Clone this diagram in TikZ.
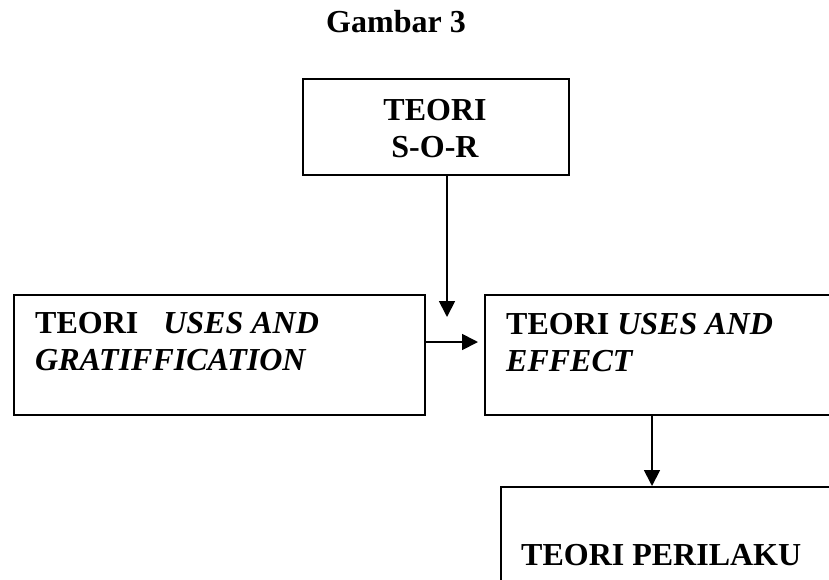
\documentclass[tikz,border=0pt]{standalone}
\usepackage{fontspec}
\setmainfont{Liberation Serif}
\usetikzlibrary{arrows.meta}
\tikzset{
  boxshape/.style={draw, line width=1.8pt, rectangle, inner sep=0pt, anchor=north west},
  txt/.style={font=\fontsize{32}{37}\selectfont\bfseries, inner sep=0pt, anchor=base west, align=left},
  arr/.style={line width=1.8pt, -{Triangle[length=16pt,width=16pt]}},
}
\begin{document}
\begin{tikzpicture}[x=1pt,y=-1pt]
\useasboundingbox (0,0) rectangle (829,579);
\clip (0,0) rectangle (829,579);
\node[txt, anchor=base] (title) at (396,32) {Gambar 3};
% boxes
\node[boxshape, minimum width=266pt, minimum height=96pt] (sor) at (302,78) {};
\node[boxshape, minimum width=411pt, minimum height=120pt] (left) at (13,294) {};
\node[boxshape, minimum width=420pt, minimum height=120pt] (right) at (484,294) {};
\node[boxshape, minimum width=420pt, minimum height=150pt] (bottom) at (500,486) {};
% texts (base anchor = baseline of last line)
\node[txt, anchor=base, align=center] (sortxt) at (435,157) {TEORI\\S-O-R};
\node[txt] (lefttxt) at (35,370) {TEORI\hspace{17pt} \textit{USES AND}\\\textit{GRATIFFICATION}};
\node[txt] (righttxt) at (506,371) {TEORI \textit{USES AND}\\\textit{EFFECT}};
\node[txt] (bottomtxt) at (521,565) {TEORI PERILAKU};
% connectors
\coordinate (sx) at (447,0);
\coordinate (sorend) at (447,317);
\coordinate (hy) at (0,342);
\coordinate (ax) at (652,0);
\draw[arr] (sor.south -| sx) -- (sorend);
\draw[arr, shorten >=6pt] (left.east |- hy) -- (right.west |- hy);
\draw[arr] (right.south -| ax) -- (bottom.north -| ax);
\end{tikzpicture}
\end{document}
